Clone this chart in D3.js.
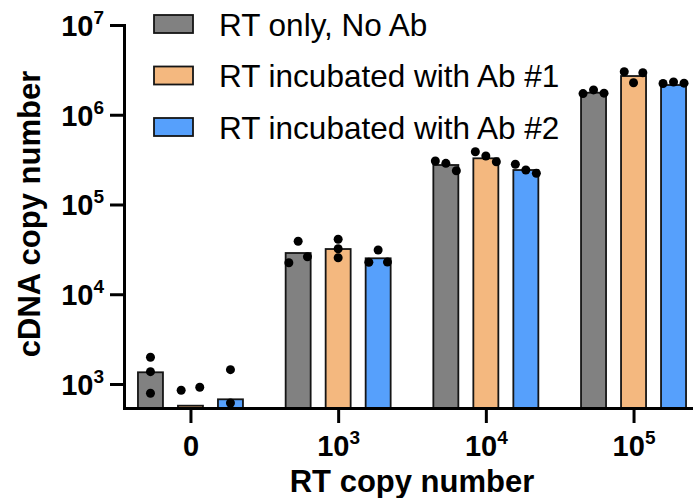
<!DOCTYPE html>
<html>
<head>
<meta charset="utf-8">
<script src="https://cdn.jsdelivr.net/npm/d3@7"></script>
<style>
  body { margin: 0; background: #fff; }
  svg { display: block; font-family: "Liberation Sans", Arial, Helvetica, sans-serif; }
</style>
</head>
<body>
<svg id="chart" width="693" height="498"></svg>
<script>
// groups on the x axis (RT copy number)
var groups = ["0", "1e3", "1e4", "1e5"];
var xTickBase = ["0", "10", "10", "10"];
var xTickExp = ["", "3", "4", "5"];

// y axis ticks
var yTickValues = [1e3, 1e4, 1e5, 1e6, 1e7];
var yTickExp = ["3", "4", "5", "6", "7"];

var series = ["RT only, No Ab", "RT incubated with Ab #1", "RT incubated with Ab #2"];
var colors = ["#818181", "#f4b87f", "#56a0fc"];

// bar heights (mean cDNA copy number)
var meanNoAb = [1350, 28800, 275400, 1760000];
var meanAb1 = [573, 31900, 327000, 2700000];
var meanAb2 = [675, 25150, 242200, 2144000];

// replicates (0 = not detected, not drawn on log axis)
var repNoAb = [[1984, 1371, 788], [38900, 22460, 26200], [305100, 287600, 237900], [1720000, 1890000, 1740000]];
var repAb1 = [[851, 919, 0], [40940, 32170, 25530], [387300, 346900, 299700], [3015000, 2274000, 2939000]];
var repAb2 = [[1443, 614, 0], [31110, 22690, 22800], [280400, 242200, 222600], [2230000, 2315000, 2250000]];

var means = [meanNoAb, meanAb1, meanAb2];
var reps = [repNoAb, repAb1, repAb2];

(function() {
    var svg = d3.select("#chart");
    var mLeft = 124, mRight = 700, mTop = 25, mBottom = 408;

    var y = d3.scaleLog().domain([540, 1e7]).range([mBottom, mTop]);
    var x0 = d3.scalePoint().domain(groups).range([mLeft, mRight]).padding(0.45);
    var xs = d3.scaleBand().domain(series).range([-60, 60]).paddingInner(0.375).paddingOuter(0.1875);

    // bars
    var bars = svg.append("g").attr("class", "bars");
    series.forEach(function(s, si) {
        bars.selectAll("rect.s" + si)
            .data(means[si])
            .enter().append("rect")
            .attr("class", "s" + si)
            .attr("x", function(d, gi) { return x0(groups[gi]) + xs(s); })
            .attr("y", function(d) { return y(d); })
            .attr("width", xs.bandwidth())
            .attr("height", function(d) { return y(y.domain()[0]) - y(d); })
            .attr("fill", colors[si])
            .attr("stroke", "#151515")
            .attr("stroke-width", 1.8);
    });

    // spread dots that sit at nearly the same height
    function swarm(vals) {
        var pts = vals.map(function(v, i) { return {v: v, i: i, y: v > 0 ? y(v) : null}; })
            .filter(function(p) { return p.y !== null; });
        var sorted = pts.slice().sort(function(a, b) { return a.y - b.y; });
        var clusters = [], cur = [];
        sorted.forEach(function(p, k) {
            if (k && p.y - sorted[k - 1].y >= 7.5) { clusters.push(cur); cur = []; }
            cur.push(p);
        });
        if (cur.length) clusters.push(cur);
        clusters.forEach(function(c) {
            c.sort(function(a, b) { return a.i - b.i; });
            var gap = c.length == 2 ? 18.6 : 10.5;
            c.forEach(function(p, j) { p.dx = (j - (c.length - 1) / 2) * gap; });
        });
        return pts;
    }

    var dots = svg.append("g").attr("class", "dots");
    series.forEach(function(s, si) {
        reps[si].forEach(function(vals, gi) {
            var cx = x0(groups[gi]) + xs(s) + xs.bandwidth() / 2;
            dots.selectAll(null)
                .data(swarm(vals))
                .enter().append("circle")
                .attr("cx", function(d) { return cx + d.dx; })
                .attr("cy", function(d) { return d.y; })
                .attr("r", 4.5)
                .attr("fill", "#000");
        });
    });

    // y axis
    var yAxis = svg.append("g")
        .attr("transform", "translate(" + mLeft + ",0)")
        .call(d3.axisLeft(y).tickValues(yTickValues).tickSize(14).tickSizeOuter(0).tickPadding(6));
    yAxis.select(".domain").attr("stroke-width", 3).attr("stroke-linecap", "square");
    yAxis.selectAll(".tick line").attr("stroke-width", 3);
    yAxis.selectAll(".tick text")
        .text(null)
        .style("font-size", "29px")
        .attr("font-weight", "bold")
        .attr("fill", "#000")
        .attr("dy", "0.36em")
        .each(function(d, i) {
            var t = d3.select(this);
            t.append("tspan").text("10");
            t.append("tspan").style("font-size", "19px").attr("dy", -12).text(yTickExp[i]);
        });

    // x axis
    var xAxis = svg.append("g")
        .attr("transform", "translate(0," + mBottom + ")")
        .call(d3.axisBottom(x0).tickSize(15).tickSizeOuter(0).tickPadding(12));
    xAxis.select(".domain").attr("stroke-width", 3).attr("stroke-linecap", "square");
    xAxis.selectAll(".tick line").attr("stroke-width", 3);
    xAxis.selectAll(".tick text")
        .text(null)
        .style("font-size", "29px")
        .attr("font-weight", "bold")
        .attr("fill", "#000")
        .each(function(d, i) {
            var t = d3.select(this);
            t.append("tspan").text(xTickBase[i]);
            if (xTickExp[i]) t.append("tspan").style("font-size", "19px").attr("dy", -12).text(xTickExp[i]);
        });

    // axis titles
    svg.append("text")
        .attr("transform", "translate(39.5,214) rotate(-90)")
        .attr("text-anchor", "middle")
        .attr("font-size", 31)
        .attr("font-weight", "bold")
        .text("cDNA copy number");

    svg.append("text")
        .attr("x", 412)
        .attr("y", 492)
        .attr("text-anchor", "middle")
        .attr("font-size", 31)
        .attr("font-weight", "bold")
        .text("RT copy number");

    // legend
    var legendY = [24, 75.5, 127];
    var legend = svg.append("g").attr("class", "legend");
    series.forEach(function(s, si) {
        legend.append("rect")
            .attr("x", 154)
            .attr("y", legendY[si] - 9)
            .attr("width", 39)
            .attr("height", 18)
            .attr("fill", colors[si])
            .attr("stroke", "#151515")
            .attr("stroke-width", 1.8);
        legend.append("text")
            .attr("x", 219)
            .attr("y", legendY[si] + 11.5)
            .attr("font-size", 31.5)
            .text(s);
    });
})();
</script>
</body>
</html>
